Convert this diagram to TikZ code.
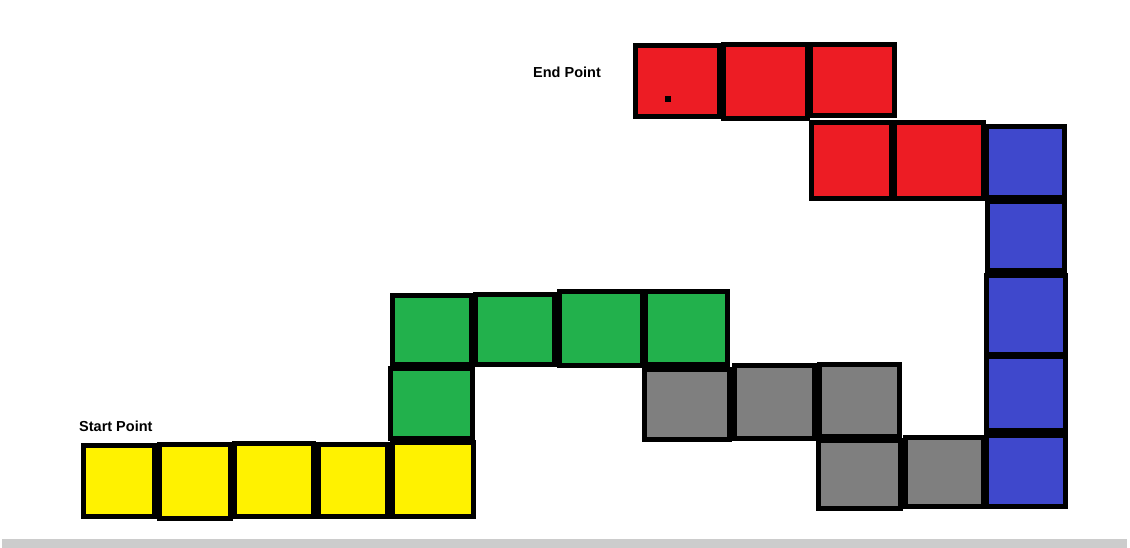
\documentclass[tikz,border=0pt]{standalone}
\usepackage{fontspec}
\setmainfont{Liberation Sans}
\definecolor{pred}{HTML}{ED1C24}
\definecolor{pyellow}{HTML}{FFF200}
\definecolor{pgreen}{HTML}{22B14C}
\definecolor{pblue}{HTML}{3F48CC}
\definecolor{pgray}{HTML}{7F7F7F}
\definecolor{barbg}{HTML}{CCCCCC}
\tikzset{
  cellbox/.style={draw=black, line width=5pt, inner sep=0pt, outer sep=0pt, rectangle},
  lbl/.style={font=\fontsize{14.5}{16}\selectfont\bfseries, inner sep=0pt, anchor=base west},
}
% name, colour, x1, y1, x2, y2 (outer edges in px)
\newcommand\mkcell[6]{%
  \pgfmathsetmacro\cx{(#3+#5)/2}%
  \pgfmathsetmacro\cy{(#4+#6)/2}%
  \pgfmathsetmacro\cw{#5-#3-5}%
  \pgfmathsetmacro\ch{#6-#4-5}%
  \node[cellbox, fill=#2, minimum width=\cw pt, minimum height=\ch pt] (#1) at (\cx,\cy) {};%
}
\begin{document}
\begin{tikzpicture}[x=1pt,y=-1pt]
\useasboundingbox (0,0) rectangle (1130,548);
\fill[white] (0,0) rectangle (1130,548);
\fill[barbg] (2,539) rectangle (1127,548);
% yellow
\mkcell{y1}{pyellow}{81}{443}{157}{519}
\mkcell{y2}{pyellow}{157}{442}{233}{521}
\mkcell{y3}{pyellow}{232}{441}{316}{519}
\mkcell{y4}{pyellow}{316}{442}{390}{519}
\mkcell{y5}{pyellow}{390}{440}{476}{519}
% green
\mkcell{g5}{pgreen}{388}{366}{475}{441}
\mkcell{g1}{pgreen}{390}{293}{474}{367}
\mkcell{g2}{pgreen}{473}{292}{557}{367}
\mkcell{g3}{pgreen}{557}{289}{645}{368}
\mkcell{g4}{pgreen}{643}{289}{730}{367}
% gray
\mkcell{k1}{pgray}{642}{367}{732}{442}
\mkcell{k2}{pgray}{732}{363}{817}{441}
\mkcell{k3}{pgray}{817}{362}{902}{439}
\mkcell{k4}{pgray}{816}{438}{903}{511}
\mkcell{k5}{pgray}{903}{435}{986}{509}
% blue
\mkcell{b1}{pblue}{984}{433}{1068}{509}
\mkcell{b2}{pblue}{984}{354}{1068}{433}
\mkcell{b3}{pblue}{984}{273}{1068}{357}
\mkcell{b4}{pblue}{985}{199}{1067}{273}
\mkcell{b5}{pblue}{984}{124}{1067}{200}
% red
\mkcell{r5}{pred}{892}{120}{986}{201}
\mkcell{r4}{pred}{809}{120}{894}{201}
\mkcell{r1}{pred}{633}{43}{722}{119}
\mkcell{r2}{pred}{721}{42}{810}{121}
\mkcell{r3}{pred}{808}{42}{897}{118}
\fill[black] (665,96) rectangle (671,102);
% labels
\node[lbl] (endlbl) at (533,78) {End Point};
\node[lbl] (startlbl) at (79,431) {Start Point};
\end{tikzpicture}
\end{document}
